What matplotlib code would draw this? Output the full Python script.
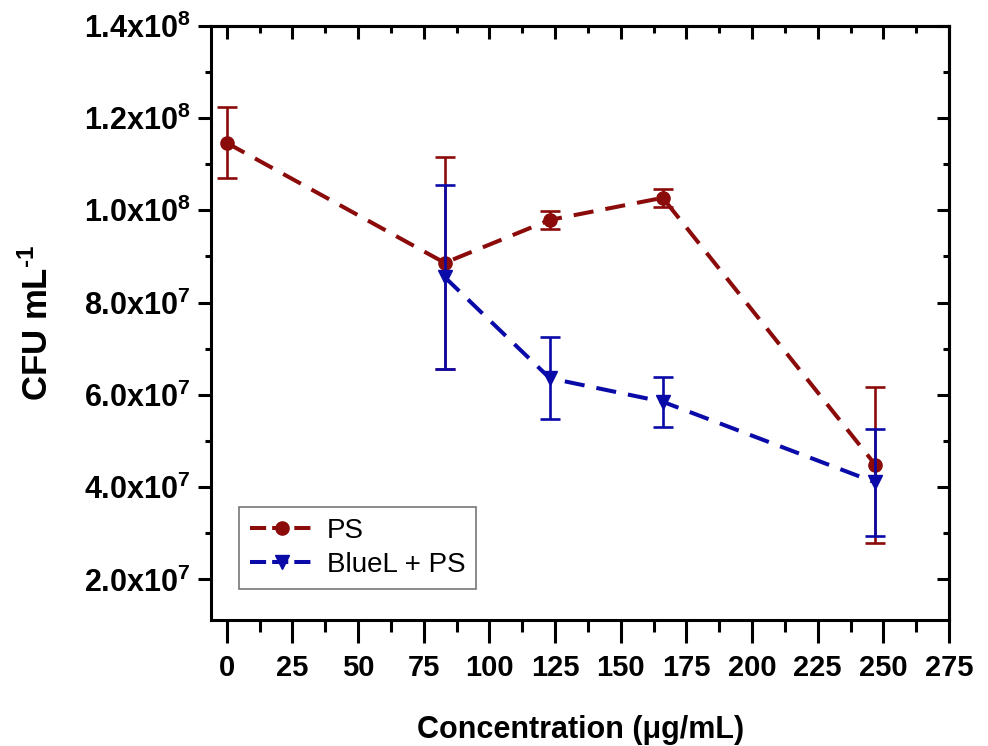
import matplotlib
matplotlib.use("Agg")
import matplotlib.pyplot as plt
from matplotlib.ticker import MultipleLocator
from matplotlib.lines import Line2D

plt.rcParams['font.family'] = ['Liberation Sans', 'DejaVu Sans']
plt.rcParams['mathtext.fontset'] = 'custom'
plt.rcParams['mathtext.rm'] = 'Liberation Sans:bold'
plt.rcParams['mathtext.bf'] = 'Liberation Sans:bold'
plt.rcParams['mathtext.default'] = 'bf'

# ---- data ----
conc = [0, 83, 123, 166, 247]
ps_mean = [1.146e8, 8.86e7, 9.79e7, 1.027e8, 4.48e7]
ps_err = [7.7e6, 2.3e7, 2.0e6, 2.0e6, 1.69e7]
blue_conc = [83, 123, 166, 247]
blue_mean = [8.55e7, 6.36e7, 5.85e7, 4.1e7]
blue_err = [2.0e7, 8.9e6, 5.4e6, 1.15e7]

xticks = [0, 25, 50, 75, 100, 125, 150, 175, 200, 225, 250, 275]
yticks = [2e7, 4e7, 6e7, 8e7, 1.0e8, 1.2e8, 1.4e8]
ytick_labels = [r'2.0x10$^{7}$', r'4.0x10$^{7}$', r'6.0x10$^{7}$', r'8.0x10$^{7}$',
                r'1.0x10$^{8}$', r'1.2x10$^{8}$', r'1.4x10$^{8}$']
series_names = ['PS', 'BlueL + PS']

red = '#8B0A0A'
blue = '#0A0AA8'

fig = plt.figure(figsize=(9.88, 7.46), dpi=100)
ax = fig.add_axes([211/988, 1-620/746, (949-211)/988, (620-25.7)/746])

ax.errorbar(conc, ps_mean, yerr=ps_err, color=red, lw=2.9, dashes=(5, 3),
            marker='o', ms=9.5, elinewidth=1.9, capsize=7.5, capthick=1.9, zorder=3)
ax.errorbar(blue_conc, blue_mean, yerr=blue_err, color=blue, lw=2.9, dashes=(5, 3),
            marker='v', ms=10.5, elinewidth=1.9, capsize=7.5, capthick=1.9, zorder=4)

ax.set_xlim(-6, 275)
ax.set_ylim(1.12e7, 1.4e8)

for s in ax.spines.values():
    s.set_linewidth(2.2)

ax.set_xticks(xticks)
ax.set_xticklabels([str(t) for t in xticks])
ax.xaxis.set_minor_locator(MultipleLocator(12.5))
ax.set_yticks(yticks)
ax.set_yticklabels(ytick_labels)
ax.yaxis.set_minor_locator(MultipleLocator(1e7))

ax.tick_params(axis='x', which='major', direction='out', length=16.5, width=2.2,
               top=False, pad=8)
ax.tick_params(axis='x', which='minor', direction='out', length=8.5, width=2.2, top=False)
ax.tick_params(axis='y', which='major', direction='out', length=9.5, width=2.2,
               right=False, pad=5)
ax.tick_params(axis='y', which='minor', direction='out', length=4.3, width=2.2, right=False)

for lab in ax.get_xticklabels():
    lab.set_fontweight('bold')
    lab.set_fontsize(21)
for lab in ax.get_yticklabels():
    lab.set_fontweight('bold')
    lab.set_fontsize(22)

# top and right inward ticks
secx = ax.secondary_xaxis('top')
secx.set_xticks(xticks)
secx.xaxis.set_minor_locator(MultipleLocator(12.5))
secx.tick_params(which='major', direction='in', length=9.5, width=2.2, labeltop=False)
secx.tick_params(which='minor', direction='in', length=5, width=2.2)
secx.spines['top'].set_linewidth(2.2)
secy = ax.secondary_yaxis('right')
secy.set_yticks(yticks)
secy.yaxis.set_minor_locator(MultipleLocator(1e7))
secy.tick_params(which='major', direction='in', length=9, width=2.2, labelright=False)
secy.tick_params(which='minor', direction='in', length=4, width=2.2)
secy.spines['right'].set_linewidth(2.2)

handles = [Line2D([], [], color=red, lw=2.9, dashes=(4, 1.5), marker='o', ms=9.5),
           Line2D([], [], color=blue, lw=2.9, dashes=(4, 1.5), marker='v', ms=10.5)]
leg = ax.legend(handles, series_names, loc='lower left', bbox_to_anchor=(0.038, 0.052),
                borderaxespad=0, fontsize=20, handlelength=2.3, handletextpad=0.45,
                fancybox=False, edgecolor='#777777', framealpha=1, borderpad=0.4,
                labelspacing=0.3)
leg.get_frame().set_linewidth(1.2)

fig.text(38/988, 1-323/746, r'CFU mL$^{\text{-1}}$', rotation=90, ha='center', va='center',
         fontsize=25, fontweight='bold')
fig.text(581/988, 1-730/746, 'Concentration (\u03bcg/mL)', ha='center', va='center',
         fontsize=22, fontweight='bold')

fig.savefig('out.png', dpi=100)
